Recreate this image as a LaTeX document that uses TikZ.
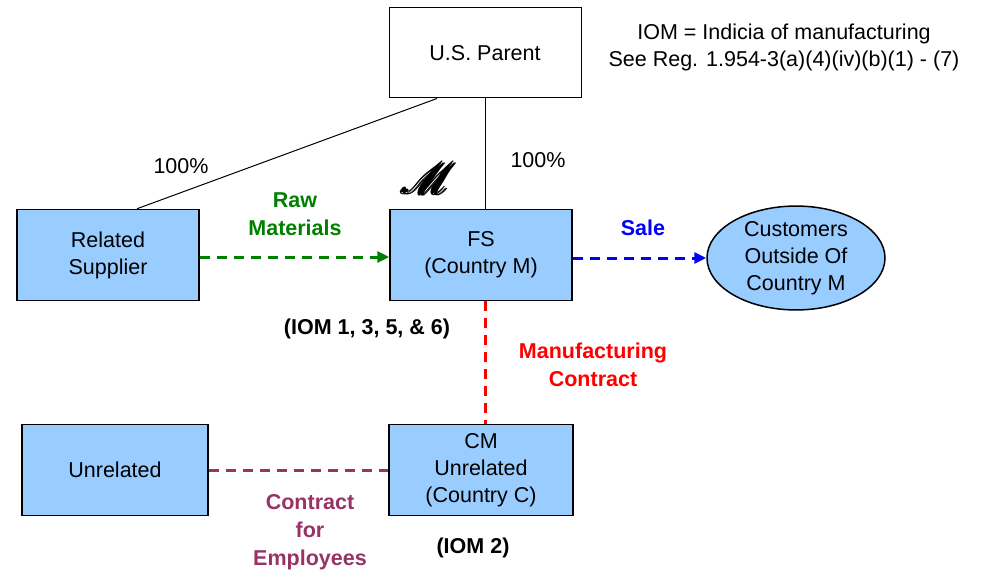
\documentclass[tikz,border=0pt]{standalone}
\usepackage{fontspec}
\setmainfont{Liberation Sans}
\usepackage{graphicx}
\usepackage{mathrsfs}
\usetikzlibrary{arrows.meta,shapes.geometric}
\definecolor{boxblue}{HTML}{99CCFF}
\definecolor{rawgreen}{HTML}{008000}
\definecolor{saleblue}{HTML}{0000FF}
\definecolor{mfgred}{HTML}{FF0000}
\definecolor{empplum}{HTML}{993366}
\newcommand{\heavyM}{\rlap{$\mathscr{M}$}\kern0.3pt\rlap{\raisebox{0.3pt}{$\mathscr{M}$}}\kern0.3pt\rlap{$\mathscr{M}$}\kern0.3pt$\mathscr{M}$}
\tikzset{
  entity/.style = {draw, line width=1.5pt, fill=boxblue, minimum width=182pt, minimum height=91pt,
    align=center, font=\fontsize{21.5}{27}\selectfont},
  link/.style = {line width=3pt, dash pattern=on 10pt off 7pt},
  owner/.style = {line width=1pt},
  tag/.style = {font=\bfseries\fontsize{21.5}{28}\selectfont, align=center},
  plain/.style = {font=\fontsize{21.5}{27}\selectfont, align=center}
}
\begin{document}
\begin{tikzpicture}[x=1pt, y=-1pt]
\useasboundingbox (0,0) rectangle (981,572);
% entities
\node[entity, fill=white, line width=1pt, minimum width=192pt, minimum height=90pt] (parent) at (485,53) {U.S. Parent};
\node[entity] (supplier) at (108,255) {Related\\Supplier};
\node[entity] (fs) at (481,255) {FS\\(Country M)};
\node[entity, ellipse, minimum width=178pt, minimum height=96pt, inner sep=0pt] (customers) at (796,258) {Customers\\Outside Of\\Country M};
\node[entity, minimum width=186pt] (unrelated) at (115,470) {Unrelated};
\node[entity, minimum width=184pt] (cm) at (481,470) {CM\\Unrelated\\(Country C)};
% ownership
\draw[owner] ([xshift=-48pt]parent.south) -- ([xshift=29pt]supplier.north);
\draw[owner] (parent.south) -- (parent.south |- fs.north);
\node[plain] (own1) at (181,166) {100\%};
\node[plain] (own2) at (538,160) {100\%};
\node (mark) at (428,178) {\scalebox{4.4}{\heavyM}};
% flows
\draw[link, rawgreen, -{Triangle[length=12pt,width=11pt]}] (supplier.east |- 0,257) -- (fs.west |- 0,257);
\node[tag, text=rawgreen] (raw) at (295,214) {Raw\\Materials};
\draw[link, saleblue, -{Triangle[length=12pt,width=11pt]}] (fs.east |- 0,258) -- (customers.west);
\node[tag, text=saleblue] (sale) at (643,228) {Sale};
\draw[link, mfgred] (parent.south |- fs.south) -- (parent.south |- cm.north);
\node[tag, text=mfgred] (mfg) at (593,365) {Manufacturing\\Contract};
\draw[link, empplum] (unrelated.east) -- (cm.west);
\node[tag, text=empplum] (emp) at (310,532) {Contract\\for\\Employees};
% indicia
\node[tag] (iom1) at (367,329) {(IOM 1, 3, 5, \& 6)};
\node[tag] (iom2) at (473,548) {(IOM 2)};
\node[plain] (note) at (784,47) {IOM = Indicia of manufacturing\\See Reg. 1.954-3(a)(4)(iv)(b)(1) - (7)};
\end{tikzpicture}
\end{document}
